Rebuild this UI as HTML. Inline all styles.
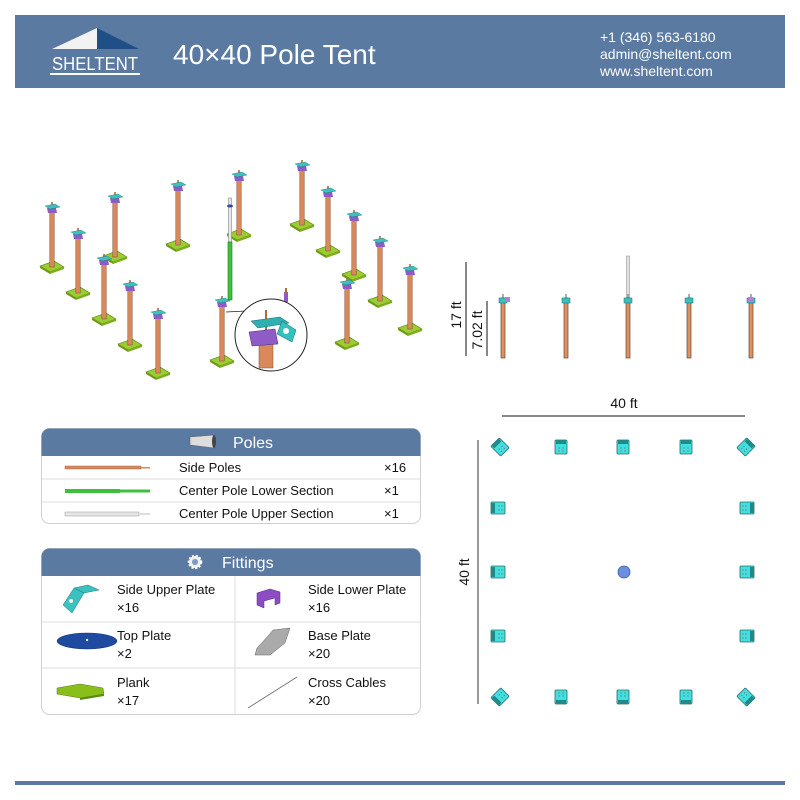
<!DOCTYPE html>
<html><head><meta charset="utf-8"><style>
html,body{margin:0;padding:0;background:#fff;width:800px;height:800px;overflow:hidden}
svg{display:block}
text{font-family:"Liberation Sans",Arial,sans-serif}
</style></head><body>
<svg width="800" height="800" viewBox="0 0 800 800" xmlns="http://www.w3.org/2000/svg">
<defs>
<g id="pole">
  <polygon points="-12,-4 2,-9 12,-3 -2,2" fill="#9acd32" stroke="#5a7a10" stroke-width="0.6"/>
  <polygon points="-12,-4 -2,2 -2,4 -12,-2" fill="#6f9a1a"/>
  <polygon points="-2,2 12,-3 12,-1 -2,4" fill="#7fae22"/>
  <rect x="-2.2" y="-58" width="4.4" height="55" fill="#d9895a" stroke="#7a4a2a" stroke-width="0.5"/>
  <rect x="-0.8" y="-68" width="1.6" height="10" fill="#b06a3a"/>
  <polygon points="-5,-62 4,-62 5,-57 -4,-57" fill="#8e5cc4"/>
  <polygon points="-7,-64 3,-66 8,-63 -2,-61" fill="#3cc0c0" stroke="#1a7a7a" stroke-width="0.4"/>
</g>
<g id="pp">
  <rect x="-6" y="-7" width="12" height="14" rx="1" fill="#40e0e0" stroke="#2a6a6a" stroke-width="0.8"/>
  <rect x="-5" y="-7" width="10" height="4" fill="#1f8a8a"/>
  <circle cx="-2" cy="1" r="0.7" fill="#777"/><circle cx="2" cy="1" r="0.7" fill="#777"/><circle cx="-2" cy="4" r="0.7" fill="#777"/><circle cx="2" cy="4" r="0.7" fill="#777"/>
</g>
<g id="ep">
  <rect x="-2" y="-58" width="4" height="60" fill="#e0905e" stroke="#5a4a3a" stroke-width="0.7"/>
  <rect x="-0.6" y="-62" width="1.2" height="6" fill="#777"/>
  <rect x="-4" y="-58" width="8" height="5" fill="#3cc0c0" stroke="#1a6a6a" stroke-width="0.5"/>
</g>
</defs>

<rect x="15" y="15" width="770" height="73" fill="#5a7aa2"/>
<polygon points="52,49 97,28 97,49" fill="#f2f2f2"/>
<polygon points="97,28 139,49 97,49" fill="#1f4f86"/>
<text x="95" y="70" font-size="18" fill="#fff" text-anchor="middle" textLength="86" lengthAdjust="spacingAndGlyphs">SHELTENT</text>
<rect x="50" y="73" width="90" height="2" fill="#fff"/>
<text x="173" y="64" font-size="28" fill="#fff">40×40 Pole Tent</text>
<text x="600" y="42" font-size="14" fill="#fff">+1 (346) 563-6180</text>
<text x="600" y="59" font-size="14" fill="#fff">admin@sheltent.com</text>
<text x="600" y="76" font-size="14" fill="#fff">www.sheltent.com</text>

<use href="#pole" x="302" y="228"/>
<use href="#pole" x="239" y="238"/>
<use href="#pole" x="178" y="248"/>
<use href="#pole" x="115" y="260"/>
<use href="#pole" x="328" y="254"/>
<use href="#pole" x="52" y="270"/>
<use href="#pole" x="354" y="278"/>
<use href="#pole" x="78" y="296"/>
<use href="#pole" x="380" y="304"/>
<use href="#pole" x="104" y="322"/>
<use href="#pole" x="410" y="332"/>
<use href="#pole" x="347" y="346"/>
<use href="#pole" x="130" y="348"/>
<use href="#pole" x="158" y="376"/>
<use href="#pole" x="222" y="364"/>
<rect x="228.5" y="198" width="3" height="44" fill="#e6e6e6" stroke="#888" stroke-width="0.6"/>
<rect x="228" y="242" width="4" height="58" fill="#3ec03e" stroke="#1f7a1f" stroke-width="0.6"/>
<ellipse cx="230" cy="206" rx="3" ry="1.5" fill="#2a4aa0"/>
<rect x="284" y="292" width="4" height="10" fill="#8e5cc4"/>
<rect x="285" y="288" width="2" height="6" fill="#b06a3a"/>
<line x1="226" y1="312" x2="246" y2="311" stroke="#222" stroke-width="0.8"/>
<circle cx="271" cy="335" r="36" fill="#fff" stroke="#222" stroke-width="1"/>
<rect x="259" y="340" width="14" height="28" fill="#d9895a" stroke="#7a4a2a" stroke-width="0.5"/>
<rect x="265" y="310" width="2" height="22" fill="#b06a3a"/>
<polygon points="251,321 280,317 289,323 258,328" fill="#2fb0b0" stroke="#156a6a" stroke-width="0.5"/>
<polygon points="282,321 296,330 292,342 277,334" fill="#35c0c0" stroke="#156a6a" stroke-width="0.5"/>
<circle cx="286" cy="331" r="3" fill="#fff"/>
<polygon points="249,332 275,329 278,344 252,346" fill="#8e5cc4" stroke="#4a2a7a" stroke-width="0.5"/>

<line x1="466" y1="262" x2="466" y2="356" stroke="#111" stroke-width="1"/>
<line x1="487" y1="301" x2="487" y2="356" stroke="#111" stroke-width="1"/>
<text transform="translate(461,315) rotate(-90)" font-size="14" fill="#111" text-anchor="middle">17 ft</text>
<text transform="translate(482,330) rotate(-90)" font-size="14" fill="#111" text-anchor="middle">7.02 ft</text>
<use href="#ep" x="503" y="356"/>
<rect x="505" y="297" width="5" height="5" fill="#b080e0"/>
<use href="#ep" x="566" y="356"/>
<rect x="626.5" y="256" width="3" height="44" fill="#e0e0e0" stroke="#888" stroke-width="0.5"/>
<use href="#ep" x="628" y="356"/>
<use href="#ep" x="689" y="356"/>
<use href="#ep" x="751" y="356"/>
<rect x="748" y="297" width="5" height="5" fill="#b080e0"/>
<text x="624" y="408" font-size="14" fill="#111" text-anchor="middle">40 ft</text>
<line x1="502" y1="416" x2="745" y2="416" stroke="#111" stroke-width="1"/>

<line x1="478" y1="440" x2="478" y2="704" stroke="#333" stroke-width="1"/>
<text transform="translate(469,572) rotate(-90)" font-size="14" fill="#111" text-anchor="middle">40 ft</text>
<use href="#pp" transform="translate(500,447) rotate(-45)"/>
<use href="#pp" x="561" y="447"/>
<use href="#pp" x="623" y="447"/>
<use href="#pp" x="686" y="447"/>
<use href="#pp" transform="translate(746,447) rotate(45)"/>
<use href="#pp" transform="translate(498,508) rotate(-90)"/>
<use href="#pp" transform="translate(747,508) rotate(90)"/>
<use href="#pp" transform="translate(498,572) rotate(-90)"/>
<use href="#pp" transform="translate(747,572) rotate(90)"/>
<use href="#pp" transform="translate(498,636) rotate(-90)"/>
<use href="#pp" transform="translate(747,636) rotate(90)"/>
<use href="#pp" transform="translate(500,697) rotate(-135)"/>
<use href="#pp" transform="translate(561,697) rotate(180)"/>
<use href="#pp" transform="translate(623,697) rotate(180)"/>
<use href="#pp" transform="translate(686,697) rotate(180)"/>
<use href="#pp" transform="translate(746,697) rotate(135)"/>
<circle cx="624" cy="572" r="6" fill="#6a8fe0" stroke="#3a5aa0" stroke-width="0.8"/>

<rect x="41.5" y="428.5" width="379" height="95" rx="8" fill="#fff" stroke="#d0d0d0"/>
<path d="M41.5,456 V436.5 a8,8 0 0 1 8,-8 H412.5 a8,8 0 0 1 8,8 V456 Z" fill="#5a7aa2"/>
<polygon points="190,437 214,435 214,448 190,445" fill="#ddd" stroke="#666" stroke-width="0.6"/>
<ellipse cx="214" cy="441.5" rx="2" ry="6.5" fill="#444"/>
<text x="233" y="448" font-size="16" fill="#fff">Poles</text>
<line x1="42" y1="479" x2="420" y2="479" stroke="#ddd"/>
<line x1="42" y1="502" x2="420" y2="502" stroke="#ddd"/>
<rect x="65" y="466" width="76" height="3" fill="#d9895a" stroke="#8a5a3a" stroke-width="0.4"/>
<rect x="141" y="467" width="9" height="1.5" fill="#d9895a"/>
<rect x="65" y="489" width="55" height="4" fill="#3ec03e"/>
<rect x="120" y="489.5" width="30" height="3" fill="#3ec03e"/>
<rect x="65" y="512" width="74" height="4" fill="#e6e6e6" stroke="#999" stroke-width="0.5"/>
<rect x="139" y="513" width="11" height="2" fill="#ddd"/>
<text x="179" y="472" font-size="13" fill="#111">Side Poles</text>
<text x="179" y="495" font-size="13" fill="#111">Center Pole Lower Section</text>
<text x="179" y="518" font-size="13" fill="#111">Center Pole Upper Section</text>
<text x="384" y="472" font-size="13" fill="#111">×16</text>
<text x="384" y="495" font-size="13" fill="#111">×1</text>
<text x="384" y="518" font-size="13" fill="#111">×1</text>

<rect x="41.5" y="548.5" width="379" height="166" rx="8" fill="#fff" stroke="#d0d0d0"/>
<path d="M41.5,576 V556.5 a8,8 0 0 1 8,-8 H412.5 a8,8 0 0 1 8,8 V576 Z" fill="#5a7aa2"/>
<circle cx="195" cy="562" r="6" fill="#eee" stroke="#fff" stroke-width="2.5" stroke-dasharray="2 1.6"/>
<circle cx="195" cy="562" r="3" fill="#7a9acb"/>
<text x="222" y="568" font-size="16" fill="#fff">Fittings</text>
<line x1="42" y1="622" x2="420" y2="622" stroke="#ddd"/>
<line x1="42" y1="668" x2="420" y2="668" stroke="#ddd"/>
<line x1="235" y1="576" x2="235" y2="714" stroke="#ddd"/>
<polygon points="74,588 88,585 99,590 84,593" fill="#3cc0c0" stroke="#1a7a7a" stroke-width="0.5"/>
<polygon points="74,588 84,593 72,613 63,605" fill="#3cc0c0" stroke="#1a7a7a" stroke-width="0.5"/>
<circle cx="71" cy="601" r="2" fill="#fff"/>
<polygon points="257,593 270,589 280,592 280,603 275,605 275,598 264,601 264,608 257,605" fill="#8e4cc4" stroke="#4a2a7a" stroke-width="0.5"/>
<ellipse cx="87" cy="641" rx="30" ry="8" fill="#1e4aa0" stroke="#123070" stroke-width="0.5"/>
<circle cx="87" cy="640" r="1.2" fill="#fff"/>
<polygon points="268,636 273,630 290,628 285,643 270,655 255,655 257,648" fill="#aaa" stroke="#666" stroke-width="0.5"/>
<polygon points="57,688 80,684 103,688 104,694 80,698 57,694" fill="#8abf1a" stroke="#5a7a10" stroke-width="0.5"/>
<polygon points="80,698 104,694 104,696 80,700" fill="#5a8a10"/>
<line x1="248" y1="708" x2="297" y2="677" stroke="#777" stroke-width="1"/>
<text x="117" y="594" font-size="13" fill="#111">Side Upper Plate</text>
<text x="117" y="612" font-size="13" fill="#111">×16</text>
<text x="117" y="640" font-size="13" fill="#111">Top Plate</text>
<text x="117" y="658" font-size="13" fill="#111">×2</text>
<text x="117" y="687" font-size="13" fill="#111">Plank</text>
<text x="117" y="705" font-size="13" fill="#111">×17</text>
<text x="308" y="594" font-size="13" fill="#111">Side Lower Plate</text>
<text x="308" y="612" font-size="13" fill="#111">×16</text>
<text x="308" y="640" font-size="13" fill="#111">Base Plate</text>
<text x="308" y="658" font-size="13" fill="#111">×20</text>
<text x="308" y="687" font-size="13" fill="#111">Cross Cables</text>
<text x="308" y="705" font-size="13" fill="#111">×20</text>

<rect x="15" y="781" width="770" height="4" fill="#5a7aa2"/>
</svg>
</body></html>
